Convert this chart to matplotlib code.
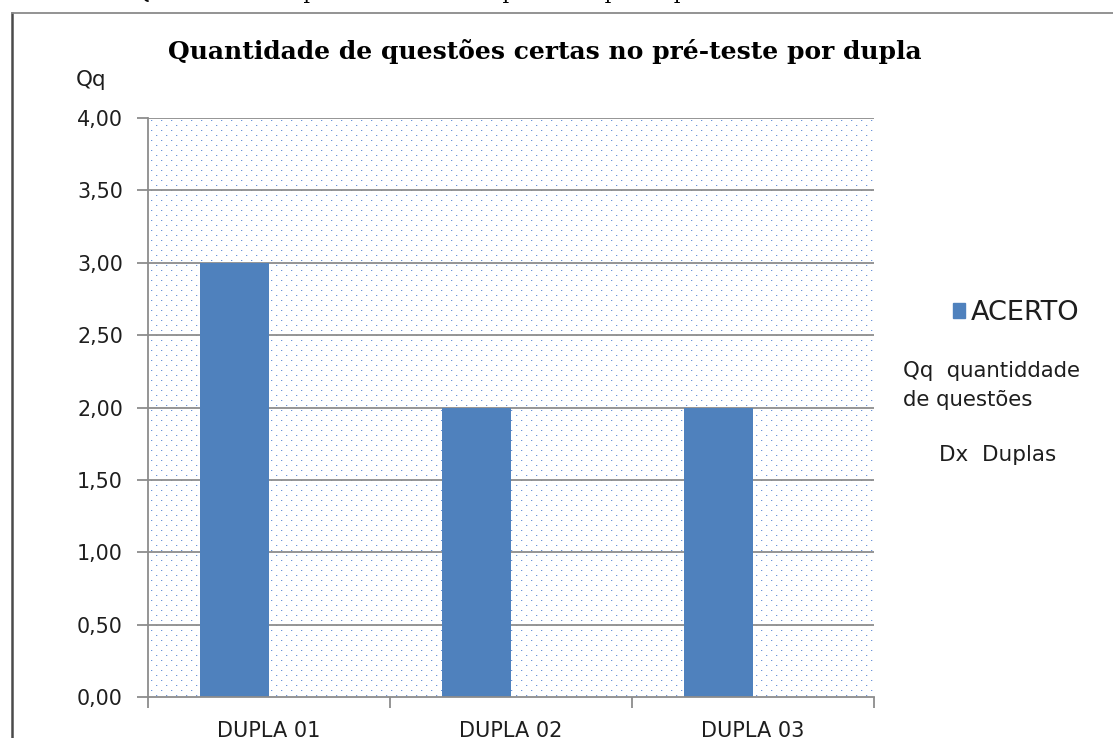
import numpy as np
import matplotlib
matplotlib.use("Agg")
import matplotlib.pyplot as plt
from matplotlib.patches import Rectangle
from matplotlib.lines import Line2D

categories = ["DUPLA 01", "DUPLA 02", "DUPLA 03"]
acerto = [3.0, 2.0, 2.0]
yticks = [0.0, 0.5, 1.0, 1.5, 2.0, 2.5, 3.0, 3.5, 4.0]
ytick_labels = ["0,00", "0,50", "1,00", "1,50", "2,00", "2,50", "3,00", "3,50", "4,00"]
title = "Quantidade de questões certas no pré-teste por dupla"
caption_prefix = "Gráfico 1 –"
legend_label = "ACERTO"

W, H, DPI = 1113, 738, 100
fig = plt.figure(figsize=(W / DPI, H / DPI), dpi=DPI)
fig.patch.set_facecolor("white")

SANS = "DejaVu Sans"
SERIF = "DejaVu Serif"
TXT = "#1e1e1e"

def px(x, y):
    return x / W, 1 - y / H

# outer frame (partially cut off)
fig.add_artist(Line2D([12 / W, 12 / W], [1 - 13 / H, -0.1], color="#4a4a4a", lw=1.8, transform=fig.transFigure))
fig.add_artist(Line2D([12 / W, 1.1], [1 - 13 / H, 1 - 13 / H], color="#8a8a8a", lw=1.3, transform=fig.transFigure))

# cut-off caption at top of the page (only its lowest part is inside the picture)
fig.text(125 / W, 1 + 1 / H, caption_prefix, family=SERIF, fontsize=15, ha="right", va="baseline")
fig.text(135 / W, 1 + 1 / H, title, family=SERIF, fontsize=15, ha="left", va="baseline")

left, right, top, bottom = 148, 874, 118, 697
ax = fig.add_axes([left / W, 1 - bottom / H, (right - left) / W, (bottom - top) / H])
ax.set_xlim(-0.5, 2.5)
ax.set_ylim(0, 4)

# dotted background pattern
pw, ph = right - left, bottom - top
img = np.ones((ph, pw, 3))
dot = np.array([0.42, 0.58, 0.85])
halo = np.array([0.84, 0.89, 0.97])
for r in range(2, ph, 5):
    off = 0 if (r // 5) % 2 == 0 else 5
    img[r, off + 4::10] = halo
    img[r, off + 3::10] = dot
ax.imshow(img, extent=(-0.5, 2.5, 0, 4), aspect="auto", zorder=0, interpolation="nearest", origin="upper")

# gridlines
for yv in yticks[1:]:
    ax.axhline(yv, color="#8c8c8c", lw=1.3, zorder=1)

# bars (first of two series slots; second slot empty)
x = np.arange(len(categories))
bw = 0.285
ax.bar(x - bw, acerto, width=bw, align="edge", color="#4F81BD", zorder=2, label=legend_label)

for s in ["top", "right"]:
    ax.spines[s].set_visible(False)
for s in ["left", "bottom"]:
    ax.spines[s].set_color("#8c8c8c")
    ax.spines[s].set_linewidth(1.3)
    ax.spines[s].set_zorder(3)

ax.set_yticks(yticks)
ax.set_yticklabels(ytick_labels, family=SANS, fontsize=14.9, color=TXT)
ax.set_xticks([-0.5, 0.5, 1.5, 2.5])
ax.set_xticklabels([])
ax.set_xticks(x, minor=True)
ax.set_xticklabels(categories, minor=True, family=SANS, fontsize=15, color=TXT)
ax.tick_params(axis="x", which="minor", length=0, pad=17)
ax.tick_params(axis="x", which="major", length=8, color="#8c8c8c", width=1.3, direction="out")
ax.tick_params(axis="y", length=8, color="#8c8c8c", width=1.3, direction="out", pad=10)

# title
fig.text(*px(545, 59), title, family=SERIF, fontweight="bold", fontsize=18, ha="center", va="baseline")
# y axis label
fig.text(*px(91, 86), "Qq", family=SANS, fontsize=15.5, ha="center", va="baseline", color=TXT)

# legend
handle = Rectangle((0, 0), 1, 1, color="#4F81BD")
leg = fig.legend([handle], [legend_label], loc="center left", bbox_to_anchor=px(953, 313),
                 frameon=False, prop={"family": SANS, "size": 19.5},
                 handlelength=0.45, handleheight=0.45, handletextpad=0.2,
                 borderaxespad=0, borderpad=0)
for t in leg.get_texts():
    t.set_color(TXT)

# annotation text
fig.text(*px(903, 377), "Qq  quantiddade", family=SANS, fontsize=15.3, ha="left", va="baseline", color=TXT)
fig.text(*px(903, 406), "de questões", family=SANS, fontsize=15.3, ha="left", va="baseline", color=TXT)
fig.text(*px(998, 461), "Dx  Duplas", family=SANS, fontsize=15.5, ha="center", va="baseline", color=TXT)

fig.savefig("out.png", dpi=DPI)
